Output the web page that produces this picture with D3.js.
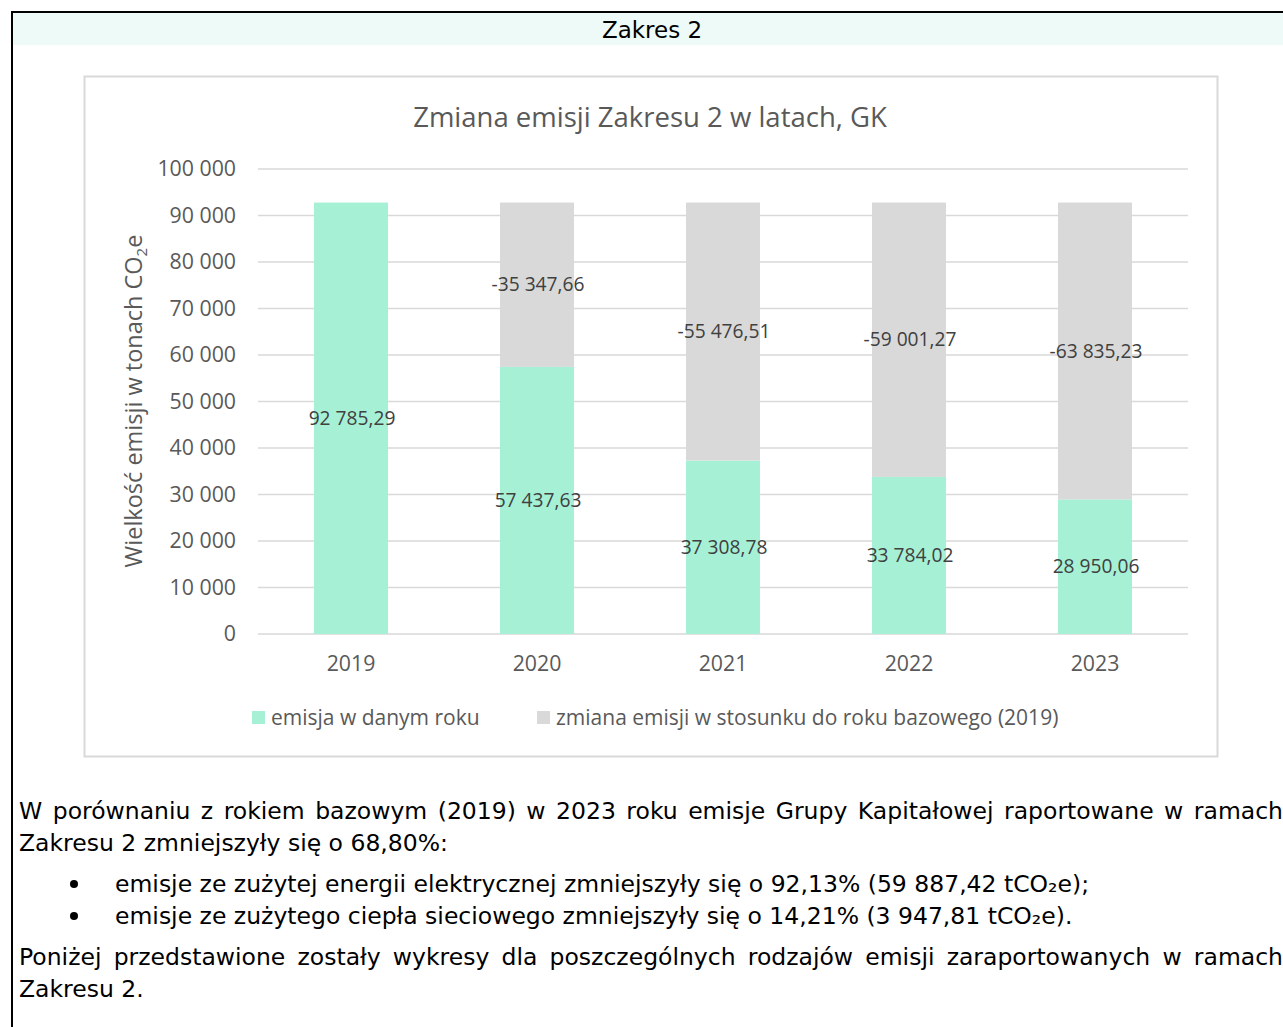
<!DOCTYPE html>
<html>
<head>
<meta charset="utf-8">
<script src="https://cdn.jsdelivr.net/npm/d3@7"></script>
<style>
  body { margin: 0; background: #fff; }
  svg { display: block; }
</style>
</head>
<body>
<svg id="page" width="1283" height="1027"></svg>
<script>
var years = ['2019', '2020', '2021', '2022', '2023'];
var emission = [92785.29, 57437.63, 37308.78, 33784.02, 28950.06];
var change = [0, -35347.66, -55476.51, -59001.27, -63835.23];
var yTicks = [0, 10000, 20000, 30000, 40000, 50000, 60000, 70000, 80000, 90000, 100000];
var legendLabels = ['emisja w danym roku', 'zmiana emisji w stosunku do roku bazowego (2019)'];

var pl = d3.formatLocale({ decimal: ',', thousands: ' ', grouping: [3], currency: ['', ' zł'], minus: '-' });
var fmtTick = pl.format(',.0f');
var fmtVal = pl.format(',.2f');

var svg = d3.select('#page');
var green = '#a6f1d6', grey = '#d9d9d9', txt = '#595959';

// page frame and header band
svg.append('rect').attr('x', 13).attr('y', 13).attr('width', 1270).attr('height', 32).attr('fill', '#eefaf7');
svg.append('line').attr('x1', 12).attr('x2', 1283).attr('y1', 12).attr('y2', 12).attr('stroke', '#000').attr('stroke-width', 2);
svg.append('line').attr('x1', 12).attr('x2', 12).attr('y1', 11).attr('y2', 1027).attr('stroke', '#000').attr('stroke-width', 2);
svg.append('text').attr('x', 652).attr('y', 38).attr('text-anchor', 'middle')
  .style('font', '23px "DejaVu Sans"').attr('fill', '#000').text('Zakres 2');

// chart box
svg.append('rect').attr('x', 84.5).attr('y', 76.5).attr('width', 1133).attr('height', 680)
  .attr('fill', '#fff').attr('stroke', '#d9d9d9').attr('stroke-width', 2);

svg.append('text').attr('x', 650).attr('y', 127).attr('text-anchor', 'middle')
  .style('font', '27.5px "Open Sans"').attr('fill', txt).text('Zmiana emisji Zakresu 2 w latach, GK');

var x = d3.scaleBand().domain(years).range([258, 1188]).paddingInner(0.602).paddingOuter(0.301);
var y = d3.scaleLinear().domain([0, 100000]).range([634, 169]);

// gridlines
svg.append('g').selectAll('line').data(yTicks).enter().append('line')
  .attr('x1', 258).attr('x2', 1188)
  .attr('y1', d => y(d)).attr('y2', d => y(d))
  .attr('stroke', '#d9d9d9').attr('stroke-width', 1.6);

// y axis labels
var yAxis = d3.axisLeft(y).tickValues(yTicks).tickFormat(fmtTick).tickSize(0).tickPadding(0);
var gy = svg.append('g').attr('transform', 'translate(236,0)').call(yAxis);
gy.select('.domain').remove();
gy.selectAll('text').style('font', '21.3px "Open Sans"').attr('fill', txt);

// x axis labels
var xAxis = d3.axisBottom(x).tickSize(0).tickPadding(0);
var gx = svg.append('g').attr('transform', 'translate(0,656)').call(xAxis);
gx.select('.domain').remove();
gx.selectAll('text').style('font', '21.3px "Open Sans"').attr('fill', txt);

var rows = years.map((yr, i) => ({ year: yr, em: emission[i], ch: change[i] }));

// bars
svg.append('g').selectAll('rect').data(rows).enter().append('rect')
  .attr('x', d => x(d.year)).attr('width', x.bandwidth())
  .attr('y', d => y(d.em)).attr('height', d => y(0) - y(d.em)).attr('fill', green);
svg.append('g').selectAll('rect').data(rows.filter(d => d.ch !== 0)).enter().append('rect')
  .attr('x', d => x(d.year)).attr('width', x.bandwidth())
  .attr('y', d => y(d.em - d.ch)).attr('height', d => y(d.em) - y(d.em - d.ch)).attr('fill', grey);

// data labels
var cx = d => x(d.year) + x.bandwidth() / 2 + 1;
svg.append('g').selectAll('text').data(rows).enter().append('text')
  .attr('x', cx).attr('y', d => y(d.em / 2)).attr('dy', '0.35em').attr('text-anchor', 'middle')
  .style('font', '19.2px "Open Sans"').attr('fill', '#404040').text(d => fmtVal(d.em));
svg.append('g').selectAll('text').data(rows.filter(d => d.ch !== 0)).enter().append('text')
  .attr('x', cx).attr('y', d => y(d.em - d.ch / 2)).attr('dy', '0.35em').attr('text-anchor', 'middle')
  .style('font', '19.2px "Open Sans"').attr('fill', '#404040').text(d => fmtVal(d.ch));

// y axis title
var yt = svg.append('text').attr('transform', 'translate(142,401) rotate(-90)').attr('text-anchor', 'middle')
  .style('font', '23.5px "Open Sans"').attr('fill', txt);
yt.append('tspan').text('Wielkość emisji w tonach CO');
yt.append('tspan').attr('dy', 5).style('font-size', '15px').text('2');
yt.append('tspan').attr('dy', -5).text('e');

// legend
var legX = [252, 537];
var leg = svg.append('g').selectAll('g').data(legendLabels).enter().append('g')
  .attr('transform', (d, i) => 'translate(' + legX[i] + ',711)');
leg.append('rect').attr('width', 13).attr('height', 13).attr('fill', (d, i) => i === 0 ? green : grey);
leg.append('text').attr('x', 19).attr('y', 7).attr('dy', '0.35em')
  .style('font', '21px "Open Sans"').attr('fill', txt).text(d => d);

// body text
var bodyFont = '23.5px "DejaVu Sans"';
var lines = [
  { t: 'W porównaniu z rokiem bazowym (2019) w 2023 roku emisje Grupy Kapitałowej raportowane w ramach', x: 19, y: 819, w: 1264 },
  { t: 'Zakresu 2 zmniejszyły się o 68,80%:', x: 19, y: 851 },
  { t: 'emisje ze zużytej energii elektrycznej zmniejszyły się o 92,13% (59 887,42 tCO₂e);', x: 115, y: 892, b: true },
  { t: 'emisje ze zużytego ciepła sieciowego zmniejszyły się o 14,21% (3 947,81 tCO₂e).', x: 115, y: 924, b: true },
  { t: 'Poniżej przedstawione zostały wykresy dla poszczególnych rodzajów emisji zaraportowanych w ramach', x: 19, y: 965, w: 1264 },
  { t: 'Zakresu 2.', x: 19, y: 997 }
];
var tl = svg.append('g').selectAll('text').data(lines).enter().append('text')
  .attr('x', d => d.x).attr('y', d => d.y)
  .style('font', bodyFont).attr('fill', '#000').text(d => d.t);
// justify: spread the gap over word spaces, shrink if too long
tl.filter(d => d.w).each(function (d) {
  var el = d3.select(this);
  var nat = this.getComputedTextLength();
  var gaps = d.t.split(' ').length - 1;
  if (nat > d.w) {
    el.attr('textLength', d.w).attr('lengthAdjust', 'spacingAndGlyphs');
  } else {
    el.style('word-spacing', ((d.w - nat) / gaps) + 'px');
  }
});
svg.append('g').selectAll('circle').data(lines.filter(d => d.b)).enter().append('circle')
  .attr('cx', 74).attr('cy', d => d.y - 8).attr('r', 4).attr('fill', '#000');
</script>
</body>
</html>
